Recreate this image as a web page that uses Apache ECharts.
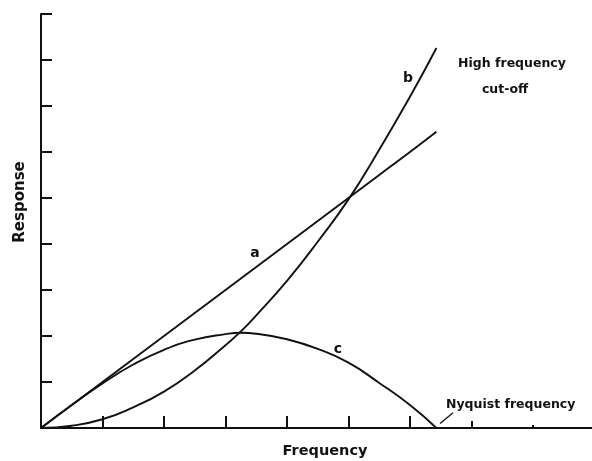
<!DOCTYPE html>
<html>
<head>
<meta charset="utf-8">
<script src="https://cdn.jsdelivr.net/npm/echarts@6/dist/echarts.min.js"></script>
<style>
  html, body { margin: 0; padding: 0; background: #fff; }
  #chart { width: 592px; height: 461px; }
</style>
</head>
<body>
<div id="chart"></div>
<script>
// Frequency in tick units; the three curves end at the Nyquist frequency.
const frequency = [0, 0.5, 1, 1.5, 2, 2.5, 3, 3.25, 3.5, 4, 4.5, 5, 5.5, 6, 6.43];
// Curve a: straight-line response
const responseA = [0, 0.5, 1.0, 1.5, 2.0, 2.5, 3.0, 3.25, 3.5, 4.0, 4.5, 5.0, 5.5, 6.0, 6.44];
// Curve b: rising response
const responseB = [0, 0.05, 0.19, 0.45, 0.79, 1.25, 1.8, 2.1, 2.45, 3.2, 4.05, 4.97, 6.05, 7.2, 8.26];
// Curve c: arch falling to zero at the Nyquist frequency
const responseC = [0, 0.5, 0.97, 1.38, 1.7, 1.92, 2.04, 2.07, 2.05, 1.93, 1.72, 1.42, 0.98, 0.5, 0];
// Short pointer from the Nyquist point to its caption
const nyquistPointer = [[6.49, 0.10], [6.70, 0.33]];

const xTicksMain = [1, 2, 3, 4, 5, 6];
const xTicksShort = [7];
const xTicksDot = [8];
const yTicks = [1, 2, 3, 4, 5, 6, 7, 8, 9];

const ink = '#111';
const font = 'DejaVu Sans';

function pairs(xs, ys) {
  return xs.map((x, i) => [x, ys[i]]);
}

function xAxisWith(ticks, len, showLine) {
  return {
    type: 'value', min: 0, max: 8.96, position: 'bottom',
    axisLine: { show: showLine, onZero: false, lineStyle: { color: ink, width: 2 } },
    axisTick: { show: true, inside: true, length: len, customValues: ticks,
                lineStyle: { color: ink, width: 2 } },
    axisLabel: { show: false },
    splitLine: { show: false }
  };
}

function curve(name, ys) {
  return {
    name: name, type: 'line', data: pairs(frequency, ys),
    smooth: true, showSymbol: false, symbol: 'none',
    lineStyle: { color: ink, width: 1.9 }, silent: true
  };
}

function text(str, x, y, size, extra) {
  return Object.assign({
    type: 'text', x: x, y: y,
    style: { text: str, fill: ink, font: 'bold ' + size + 'px "' + font + '"',
             align: 'center', verticalAlign: 'middle' }
  }, extra || {});
}

const chart = echarts.init(document.getElementById('chart'), null, { renderer: 'canvas' });
chart.setOption({
  animation: false,
  backgroundColor: '#fff',
  grid: { left: 41, right: 0, top: 14, bottom: 33, containLabel: false },
  xAxis: [
    xAxisWith(xTicksMain, 12, true),
    xAxisWith(xTicksShort, 7, false),
    xAxisWith(xTicksDot, 3, false)
  ],
  yAxis: {
    type: 'value', min: 0, max: 9,
    axisLine: { show: true, onZero: false, lineStyle: { color: ink, width: 2 } },
    axisTick: { show: true, inside: true, length: 11, customValues: yTicks,
                lineStyle: { color: ink, width: 2 } },
    axisLabel: { show: false },
    splitLine: { show: false }
  },
  series: [
    curve('a', responseA),
    curve('b', responseB),
    curve('c', responseC),
    {
      name: 'pointer', type: 'line', data: nyquistPointer, showSymbol: false, symbol: 'none',
      lineStyle: { color: ink, width: 1.3 }, silent: true
    }
  ],
  graphic: [
    text('Response', 20, 202, 15, { rotation: Math.PI / 2 }),
    text('Frequency', 325, 451, 14.5),
    text('a', 255, 253, 14),
    text('b', 408, 78, 14),
    text('c', 338, 349, 14),
    text('High frequency', 512, 63.5, 12.5),
    text('cut-off', 505, 89.5, 12.5),
    {
      type: 'text', x: 446, y: 405,
      style: { text: 'Nyquist frequency', fill: ink, font: 'bold 12.5px "' + font + '"',
               align: 'left', verticalAlign: 'middle' }
    }
  ]
});
</script>
</body>
</html>
